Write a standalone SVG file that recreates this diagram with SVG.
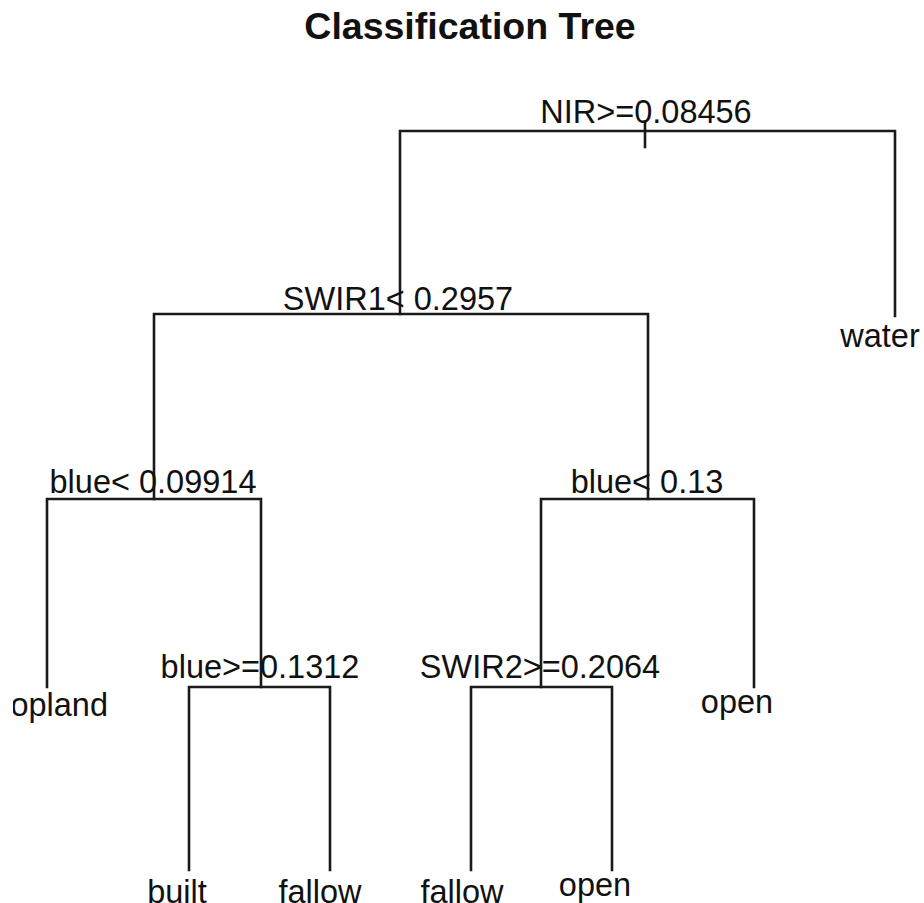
<svg xmlns="http://www.w3.org/2000/svg" width="924" height="903" viewBox="0 0 924 903">
<style>
.e{stroke:#1a1a1a;stroke-width:2.6;fill:none;stroke-linecap:square}
text{font-family:"Liberation Sans",Arial,sans-serif;font-size:32.5px;fill:#111;text-anchor:middle}
.t{font-weight:bold;font-size:37.5px}
</style>
<defs>
<clipPath id="plotclip"><rect x="13" y="0" width="911" height="903"/></clipPath>
</defs>
<rect width="924" height="903" fill="#fff"/>
<text class="t" x="470" y="39">Classification Tree</text>
<g id="connectors">
<path class="e" d="M400,314 V131 H895 V316"/>
<path class="e" d="M645,122 V147"/>
<path class="e" d="M154,499 V314 H648 V499"/>
<path class="e" d="M47,687 V499 H261 V687"/>
<path class="e" d="M541,687 V499 H754 V687"/>
<path class="e" d="M189,870 V687 H330 V870"/>
<path class="e" d="M471,870 V687 H612 V870"/>
</g>
<g id="n1"><text x="646" y="123">NIR&gt;=0.08456</text></g>
<g id="n2"><text x="398" y="310">SWIR1&lt; 0.2957</text></g>
<g id="n3"><text x="880" y="347">water</text></g>
<g id="n4"><text x="153" y="493">blue&lt; 0.09914</text></g>
<g id="n5"><text x="647" y="493">blue&lt; 0.13</text></g>
<g id="n8" clip-path="url(#plotclip)"><text x="108" y="716" style="text-anchor:end">cropland</text></g>
<g id="n9"><text x="260" y="678">blue&gt;=0.1312</text></g>
<g id="n10"><text x="540" y="678">SWIR2&gt;=0.2064</text></g>
<g id="n11"><text x="737" y="713">open</text></g>
<g id="n18"><text x="177" y="903">built</text></g>
<g id="n19"><text x="320" y="903">fallow</text></g>
<g id="n20"><text x="462" y="903">fallow</text></g>
<g id="n21"><text x="595" y="896">open</text></g>
</svg>
